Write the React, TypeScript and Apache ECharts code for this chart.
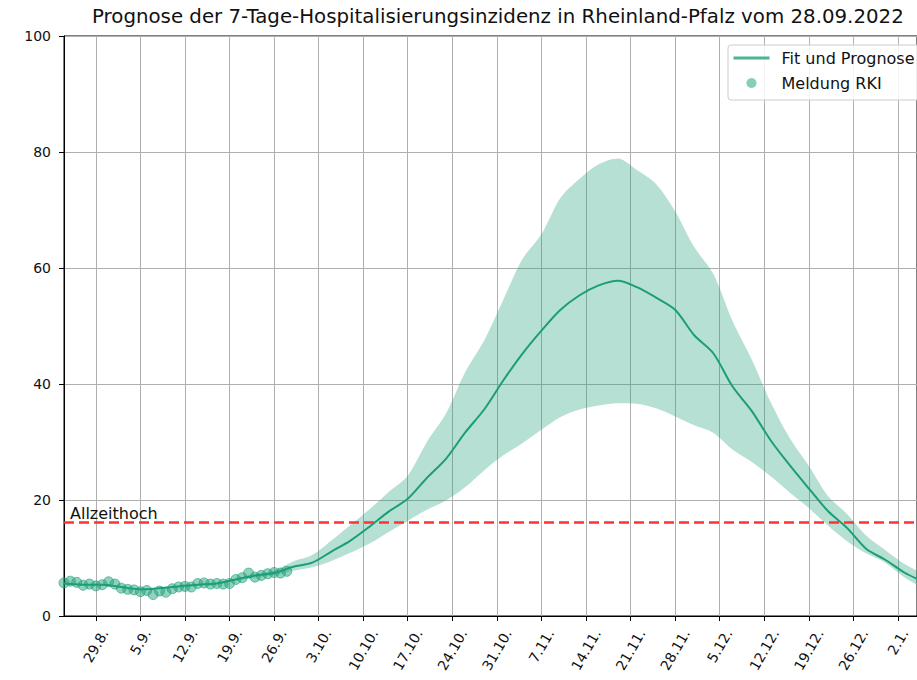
import React, { useEffect, useRef } from "react";
import * as echarts from "echarts";

const FONT = "'DejaVu Sans', sans-serif";
const TITLE = "Prognose der 7-Tage-Hospitalisierungsinzidenz in Rheinland-Pfalz vom 28.09.2022";

// x axis: one category per day, starting 24.8.2022
const START_YEAR = 2022;
const START_MONTH = 7; // August (0-based)
const START_DAY = 24;
const N_DAYS = 135;
const CATEGORIES: string[] = [];
for (let i = 0; i < N_DAYS; i++) {
  const d = new Date(START_YEAR, START_MONTH, START_DAY + i);
  CATEGORIES.push(`${d.getDate()}.${d.getMonth() + 1}.`);
}

const TICK_LABELS = [
  "29.8.", "5.9.", "12.9.", "19.9.", "26.9.", "3.10.", "10.10.", "17.10.", "24.10.", "31.10.",
  "7.11.", "14.11.", "21.11.", "28.11.", "5.12.", "12.12.", "19.12.", "26.12.", "2.1.",
];

// Meldung RKI (day index from 24.8.)
const RKI_DAY = [
  0, 1, 2, 3, 4, 5, 6, 7, 8, 9, 10, 11, 12, 13, 14, 15, 16, 17, 18, 19, 20, 21, 22, 23, 24, 25, 26, 27,
  28, 29, 30, 31, 32, 33, 34, 35,
];
const RKI_VALUE = [
  5.7, 6.0, 5.8, 5.3, 5.5, 5.2, 5.4, 5.9, 5.5, 4.8, 4.6, 4.5, 4.2, 4.4, 3.7, 4.3, 4.1, 4.7, 5.0, 5.1,
  5.0, 5.6, 5.7, 5.5, 5.6, 5.5, 5.6, 6.3, 6.6, 7.4, 6.7, 7.0, 7.3, 7.5, 7.4, 7.7,
];

// Fit und Prognose
const FIT_DAY = [
  0, 3, 6, 9, 12, 15, 18, 21, 24, 27, 30, 33, 36, 39, 42, 45, 48, 51, 54, 57, 60, 63, 66, 69, 72, 75,
  78, 81, 84, 87, 90, 93, 96, 99, 102, 105, 108, 111, 114, 117, 120, 123, 126, 129, 132, 134,
];
const FIT_VALUE = [
  5.6, 5.4, 5.4, 5.0, 4.6, 4.8, 5.1, 5.4, 5.6, 6.3, 7.0, 7.4, 8.5, 9.2, 11.1, 13.0, 15.4, 18.0, 20.2,
  23.8, 27.1, 31.6, 35.6, 40.6, 45.2, 49.2, 52.8, 55.3, 57.0, 57.8, 56.7, 54.9, 52.8, 48.4, 45.3, 39.6,
  35.4, 30.3, 26.0, 22.0, 18.1, 15.2, 11.6, 9.7, 7.5, 6.4,
];

// Prognose-Band
const BAND_DAY = [
  27, 30, 33, 36, 39, 42, 45, 48, 51, 54, 57, 60, 63, 66, 69, 72, 75, 78, 81, 84, 87, 90, 93, 96, 99,
  102, 105, 108, 111, 114, 117, 120, 123, 126, 129, 132, 134,
];
const BAND_HIGH = [
  6.5, 7.2, 7.8, 9.4, 10.5, 13.0, 15.7, 18.4, 21.4, 24.2, 30.0, 34.9, 42.0, 47.5, 54.5, 61.5, 65.8,
  72.1, 75.4, 77.9, 78.9, 76.9, 74.5, 69.8, 63.6, 59.0, 50.9, 44.3, 36.9, 30.7, 25.9, 20.7, 17.6, 13.9,
  11.4, 9.0, 7.8,
];
const BAND_LOW = [
  6.1, 6.6, 7.1, 7.8, 8.4, 9.5, 10.9, 12.5, 14.5, 16.4, 18.3, 19.9, 22.2, 25.1, 27.7, 29.8, 32.1, 34.3,
  35.6, 36.3, 36.7, 36.6, 35.8, 34.4, 32.9, 31.6, 28.7, 26.6, 24.1, 21.3, 18.6, 15.6, 12.9, 10.8, 9.2,
  6.7, 5.4,
];

const ALLZEITHOCH = 16.1;
const Y_MIN = 0;
const Y_MAX = 100;
const Y_STEP = 20;

const GREEN = "#1b9e77";
const isTick = (_i: number, v: string) => TICK_LABELS.includes(v);

// rotated tick labels are centred under their tick like matplotlib's: longer labels sit lower
const labelRich = (shift: number) => ({
  fontFamily: FONT,
  fontSize: 14,
  color: "#111",
  padding: [shift, shift * 1.732, 0, 0],
});

export default function App() {
  const ref = useRef<HTMLDivElement>(null);
  useEffect(() => {
    const chart = echarts.init(ref.current!, null, { renderer: "svg" });
    const option: any = {
      animation: false,
      backgroundColor: "#fff",
      textStyle: { fontFamily: FONT },
      title: {
        text: TITLE,
        left: 92,
        top: 6,
        padding: 0,
        textStyle: { fontFamily: FONT, fontSize: 19.8, fontWeight: "normal", color: "#111" },
      },
      legend: {
        orient: "vertical",
        left: 728,
        top: 45,
        itemWidth: 36,
        itemHeight: 10,
        itemGap: 9,
        padding: [5, 10, 9, 4],
        borderColor: "#cccccc",
        borderWidth: 1,
        borderRadius: 3,
        backgroundColor: "rgba(255,255,255,0.85)",
        selectedMode: false,
        textStyle: { fontFamily: FONT, fontSize: 16, color: "#111", padding: [0, 0, 0, 7] },
        data: [
          {
            name: "Fit und Prognose",
            itemStyle: { color: "transparent", borderColor: "transparent", borderWidth: 0, opacity: 0 },
            lineStyle: { color: "#4db395", width: 3, opacity: 1 },
          },
          { name: "Meldung RKI", icon: "circle", itemStyle: { color: "#66c2a5", borderWidth: 0 } },
        ],
      },
      grid: {
        left: 64,
        top: 36,
        width: 862,
        height: 580,
        show: true,
        borderColor: "#000",
        borderWidth: 1,
        backgroundColor: "transparent",
      },
      xAxis: {
        type: "category",
        data: CATEGORIES,
        boundaryGap: false,
        axisLine: { show: true, lineStyle: { color: "#000", width: 1 } },
        axisTick: { show: true, interval: isTick, length: 5, lineStyle: { color: "#000" } },
        axisLabel: {
          interval: isTick,
          rotate: 60,
          align: "center",
          verticalAlign: "middle",
          margin: 26,
          fontFamily: FONT,
          fontSize: 14,
          color: "#111",
          hideOverlap: false,
          formatter: (v: string) => `{s${v.length}|${v}}`,
          rich: { s4: labelRich(0), s5: labelRich(3.9), s6: labelRich(7.7) },
        },
        splitLine: { show: true, interval: isTick, lineStyle: { color: "#b0b0b0", width: 1 } },
      },
      yAxis: {
        type: "value",
        min: Y_MIN,
        max: Y_MAX,
        interval: Y_STEP,
        axisLine: { show: true, lineStyle: { color: "#000", width: 1 } },
        axisTick: { show: true, length: 5, lineStyle: { color: "#000" } },
        axisLabel: { fontFamily: FONT, fontSize: 14, color: "#111", margin: 13 },
        splitLine: { show: true, lineStyle: { color: "#b0b0b0", width: 1 } },
      },
      series: [
        {
          name: "Band unten",
          type: "line",
          stack: "band",
          data: BAND_DAY.map((d, i) => [d, BAND_LOW[i]]),
          symbol: "none",
          smooth: 0.3,
          lineStyle: { opacity: 0 },
          z: 1,
        },
        {
          name: "Band",
          type: "line",
          stack: "band",
          data: BAND_DAY.map((d, i) => [d, BAND_HIGH[i] - BAND_LOW[i]]),
          symbol: "none",
          smooth: 0.3,
          lineStyle: { opacity: 0 },
          areaStyle: { color: GREEN, opacity: 0.32 },
          z: 1,
        },
        {
          name: "Fit und Prognose",
          type: "line",
          data: FIT_DAY.map((d, i) => [d, FIT_VALUE[i]]),
          symbol: "none",
          smooth: 0.3,
          lineStyle: { color: GREEN, width: 2 },
          itemStyle: { color: GREEN },
          z: 3,
          markLine: {
            silent: true,
            symbol: "none",
            data: [{ yAxis: ALLZEITHOCH }],
            lineStyle: { color: "#ff3333", type: [10, 5], width: 2.5 },
            label: {
              show: true,
              position: "insideStartTop",
              formatter: "Allzeithoch",
              distance: [6, 1],
              fontFamily: FONT,
              fontSize: 16,
              color: "#111",
            },
          },
        },
        {
          name: "Meldung RKI",
          type: "scatter",
          data: RKI_DAY.map((d, i) => [d, RKI_VALUE[i]]),
          symbol: "circle",
          symbolSize: 10,
          itemStyle: {
            color: "rgba(27,158,119,0.6)",
            borderColor: "rgba(27,158,119,0.75)",
            borderWidth: 1,
          },
          z: 4,
        },
      ],
    };
    chart.setOption(option);
    return () => chart.dispose();
  }, []);
  return (
    <div
      ref={ref}
      style={{ position: "fixed", left: 0, top: 0, width: 917, height: 680, overflow: "hidden", background: "#fff" }}
    />
  );
}
